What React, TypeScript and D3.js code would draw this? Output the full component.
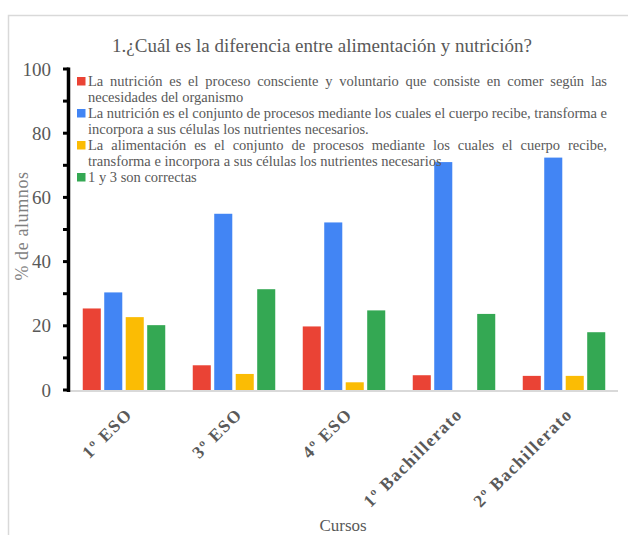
import React, { useEffect, useRef } from "react";
import * as d3 from "d3";

const categories = ["1º ESO", "3º ESO", "4º ESO", "1º Bachillerato", "2º Bachillerato"];
const legendLines = [
  ["La nutrición es el proceso consciente y voluntario que consiste en comer según las", "necesidades del organismo"],
  ["La nutrición es el conjunto de procesos mediante los cuales el cuerpo recibe, transforma e", "incorpora a sus células los nutrientes necesarios."],
  ["La alimentación es el conjunto de procesos mediante los cuales el cuerpo recibe,", "transforma e incorpora a sus células los nutrientes necesarios"],
  ["1 y 3 son correctas"],
];
const seriesColors = ["#EA4335", "#4285F4", "#FBBC04", "#34A853"];
const serie1 = [25.4, 7.7, 19.8, 4.6, 4.4];
const serie2 = [30.4, 54.9, 52.2, 71.0, 72.4];
const serie3 = [22.7, 5.0, 2.4, 0, 4.4];
const serie4 = [20.2, 31.4, 24.8, 23.7, 18.0];
const yTicks = [0, 20, 40, 60, 80, 100];
const yMinorTicks = [10, 30, 50, 70, 90];
const title = "1.¿Cuál es la diferencia entre alimentación y nutrición?";
const yTitle = "% de alumnos";
const xTitle = "Cursos";

const FONT = "'Liberation Serif', 'Times New Roman', serif";
const GRAY = "#595959";

export default function App() {
  const ref = useRef<SVGSVGElement>(null);
  useEffect(() => {
    const svg = d3.select(ref.current);
    svg.selectAll("*").remove();
    const series = [serie1, serie2, serie3, serie4];

    const left = 69, right = 619, top = 69, bottom = 390;
    const x0 = d3.scaleBand<string>().domain(categories).range([left, right]);
    const x1 = d3
      .scaleBand<number>()
      .domain(d3.range(series.length))
      .range([0, x0.bandwidth()])
      .paddingInner(0.16)
      .paddingOuter(0.64);
    const y = d3.scaleLinear().domain([0, 100]).range([bottom, top]);

    // outer border
    svg.append("rect").attr("x", 8.5).attr("y", 15.5).attr("width", 700).attr("height", 700)
      .attr("fill", "#fff").attr("stroke", "#d9d9d9").attr("stroke-width", 1.5);

    // title
    svg.append("text").attr("x", 322).attr("y", 52).attr("text-anchor", "middle")
      .attr("font-family", FONT).attr("font-size", 19).attr("fill", GRAY).text(title);

    // bars
    categories.forEach((c, ci) => {
      const g = svg.append("g").attr("transform", `translate(${x0(c)},0)`);
      series.forEach((s, si) => {
        const v = s[ci];
        if (v <= 0) return;
        g.append("rect").attr("x", x1(si)!).attr("width", x1.bandwidth())
          .attr("y", y(v)).attr("height", y(0) - y(v)).attr("fill", seriesColors[si]);
      });
    });

    // x baseline
    svg.append("line").attr("x1", 68).attr("x2", 618).attr("y1", y(0) + 1).attr("y2", y(0) + 1)
      .attr("stroke", "#d9d9d9").attr("stroke-width", 2);

    // y axis
    svg.append("line").attr("x1", 68.5).attr("x2", 68.5).attr("y1", y(100) - 1.5).attr("y2", y(0) + 2)
      .attr("stroke", "#000").attr("stroke-width", 3.5);
    [...yTicks, ...yMinorTicks].forEach((t) => {
      svg.append("line").attr("x1", 63).attr("x2", 68.5).attr("y1", y(t)).attr("y2", y(t))
        .attr("stroke", "#000").attr("stroke-width", 3);
    });
    yTicks.forEach((t) => {
      svg.append("text").attr("x", 51).attr("y", y(t)).attr("dy", "0.35em").attr("text-anchor", "end")
        .attr("font-family", FONT).attr("font-size", 19).attr("fill", GRAY).text(String(t));
    });

    // y title
    svg.append("text").attr("transform", `translate(28,226) rotate(-90)`).attr("text-anchor", "middle")
      .attr("font-family", FONT).attr("font-size", 18).attr("letter-spacing", 0.6)
      .attr("fill", "#7f7f7f").text(yTitle);

    // x labels
    categories.forEach((c) => {
      const cx = x0(c)! + x0.bandwidth() / 2;
      svg.append("text").attr("transform", `translate(${cx + 5},${411}) rotate(-45)`)
        .attr("text-anchor", "end").attr("dy", "0.35em")
        .attr("font-family", FONT).attr("font-size", 17.5).attr("font-weight", "bold")
        .attr("letter-spacing", 1.4)
        .attr("fill", GRAY).text(c);
    });

    // x title
    svg.append("text").attr("x", 343).attr("y", 531).attr("text-anchor", "middle")
      .attr("font-family", FONT).attr("font-size", 17).attr("fill", GRAY).text(xTitle);

    // legend with justified lines
    const lgX = 88, lgRight = 607, lineH = 16, fs = 14.5;
    const measure = svg.append("text").attr("font-family", FONT).attr("font-size", fs)
      .attr("visibility", "hidden");
    const wWidth = (w: string) => {
      measure.text(w);
      return (measure.node() as SVGTextElement).getComputedTextLength();
    };
    const spaceW = wWidth("a b") - wWidth("ab");
    let baseline = 85.5;
    legendLines.forEach((lines, si) => {
      svg.append("rect").attr("x", 77).attr("y", baseline - 8.5).attr("width", 8.5).attr("height", 8.5)
        .attr("fill", seriesColors[si]);
      lines.forEach((line, li) => {
        const ln = line.split(" ");
        const t = svg.append("text").attr("y", baseline).attr("font-family", FONT)
          .attr("font-size", fs).attr("fill", GRAY);
        const widths = ln.map(wWidth);
        const sum = d3.sum(widths);
        const last = li === lines.length - 1;
        const gap = !last && ln.length > 1 ? (lgRight - lgX - sum) / (ln.length - 1) : spaceW;
        let xx = lgX;
        ln.forEach((w, wi) => {
          t.append("tspan").attr("x", xx).text(w);
          xx += widths[wi] + gap;
        });
        baseline += lineH;
      });
    });
    measure.remove();
  }, []);

  return (
    <svg ref={ref} width={628} height={535}
      style={{ position: "absolute", left: 0, top: 0, background: "#fff" }} />
  );
}
